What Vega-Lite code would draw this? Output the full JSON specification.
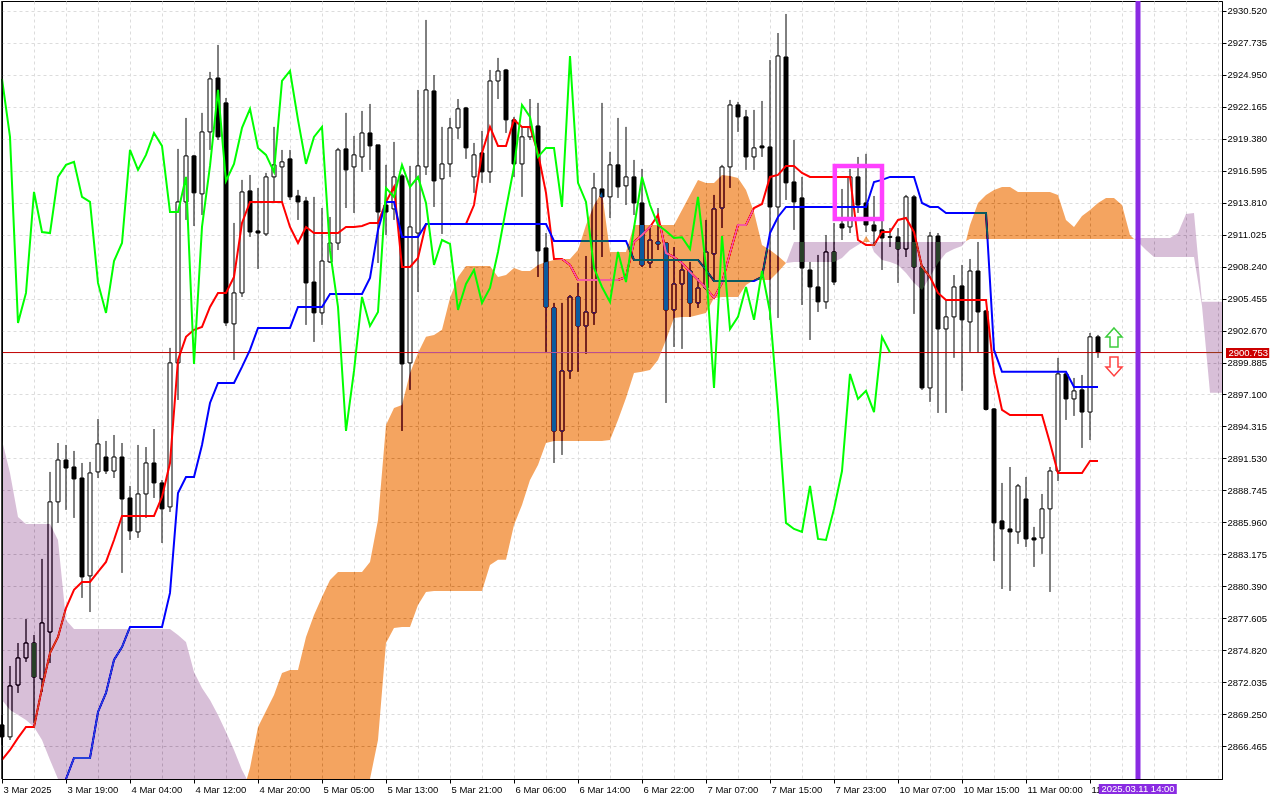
{
  "$schema": "https://vega.github.io/schema/vega-lite/v6.json",
  "width": 1220,
  "height": 778,
  "autosize": {"type": "none"},
  "padding": {"left": 2, "top": 1, "right": 58, "bottom": 21},
  "background": "white",
  "config": {
    "view": {"stroke": "black", "strokeWidth": 1},
    "font": "Liberation Sans"
  },
  "datasets": {
    "bars": [
      {"k":0,"o":2868.30,"h":2869.17,"l":2866.56,"c":2867.26,"tk":2865.25,"ck":2924.60},
      {"k":1,"o":2867.26,"h":2873.44,"l":2866.99,"c":2871.70,"tk":2866.12,"ck":2919.55},
      {"k":2,"o":2871.78,"h":2875.44,"l":2871.09,"c":2874.14,"tk":2867.17,"ck":2903.34},
      {"k":3,"o":2874.14,"h":2877.53,"l":2873.79,"c":2875.44,"tk":2868.13,"ck":2905.95},
      {"k":4,"o":2875.44,"h":2876.14,"l":2868.48,"c":2872.48,"tk":2868.13,"ck":2914.75},
      {"k":5,"o":2872.31,"h":2882.77,"l":2871.17,"c":2877.19,"tk":2871.52,"ck":2911.26},
      {"k":6,"o":2876.40,"h":2890.35,"l":2873.70,"c":2887.74,"tk":2874.57,"ck":2911.17},
      {"k":7,"o":2887.74,"h":2892.87,"l":2885.91,"c":2891.39,"tk":2875.97,"ck":2916.06},
      {"k":8,"o":2891.39,"h":2892.70,"l":2887.04,"c":2890.69,"tk":2878.49,"kj":2863.59,"ck":2917.11},
      {"k":9,"o":2890.78,"h":2892.18,"l":2886.34,"c":2889.74,"tk":2880.07,"kj":2865.43,"ck":2917.37},
      {"k":10,"o":2889.82,"h":2891.13,"l":2879.37,"c":2881.20,"tk":2880.76,"kj":2865.43,"ck":2914.32},
      {"k":11,"o":2881.29,"h":2891.22,"l":2878.14,"c":2890.26,"tk":2880.76,"kj":2865.43,"ck":2913.88},
      {"k":12,"o":2890.35,"h":2894.96,"l":2889.82,"c":2892.79,"tk":2881.64,"kj":2869.43,"ck":2906.82},
      {"k":13,"o":2891.65,"h":2893.05,"l":2890.17,"c":2890.43,"tk":2882.51,"kj":2871.09,"ck":2904.21},
      {"k":14,"o":2890.43,"h":2893.57,"l":2889.82,"c":2891.65,"tk":2884.42,"kj":2873.96,"ck":2908.73},
      {"k":15,"o":2891.65,"h":2892.87,"l":2881.55,"c":2887.99,"tk":2886.52,"kj":2875.09,"ck":2910.30},
      {"k":16,"o":2888.08,"h":2889.13,"l":2884.42,"c":2885.21,"tk":2886.52,"kj":2876.84,"ck":2918.41},
      {"k":17,"o":2885.12,"h":2892.70,"l":2884.60,"c":2888.43,"tk":2886.52,"kj":2876.84,"ck":2916.67},
      {"k":18,"o":2888.43,"h":2892.52,"l":2886.34,"c":2891.13,"tk":2886.52,"kj":2876.84,"ck":2917.98},
      {"k":19,"o":2891.13,"h":2894.09,"l":2888.08,"c":2889.39,"tk":2886.52,"kj":2876.84,"ck":2919.89},
      {"k":20,"o":2889.39,"h":2889.65,"l":2884.16,"c":2887.13,"tk":2888.17,"kj":2876.84,"ck":2918.76},
      {"k":21,"o":2887.30,"h":2901.16,"l":2886.86,"c":2899.85,"tk":2891.13,"kj":2879.81,"ck":2913.00},
      {"k":22,"o":2899.85,"h":2918.50,"l":2896.62,"c":2913.88,"tk":2900.11,"kj":2888.52,"ck":2913.00},
      {"k":23,"o":2913.88,"h":2921.20,"l":2912.31,"c":2917.89,"tk":2902.12,"kj":2889.91,"ck":2916.06},
      {"k":24,"o":2917.89,"h":2917.98,"l":2911.78,"c":2914.67,"tk":2902.73,"kj":2889.91,"ck":2899.76},
      {"k":25,"o":2914.58,"h":2921.64,"l":2912.74,"c":2919.98,"tk":2902.99,"kj":2892.70,"ck":2911.70},
      {"k":26,"o":2919.98,"h":2925.21,"l":2918.41,"c":2924.60,"tk":2904.73,"kj":2896.36,"ck":2917.02},
      {"k":27,"o":2924.68,"h":2927.56,"l":2919.28,"c":2919.55,"tk":2905.95,"kj":2898.11,"ck":2923.64},
      {"k":28,"o":2922.51,"h":2922.94,"l":2903.07,"c":2903.34,"tk":2905.95,"kj":2898.11,"ck":2915.71},
      {"k":29,"o":2903.25,"h":2912.05,"l":2900.11,"c":2905.95,"tk":2907.34,"kj":2898.11,"ck":2917.19},
      {"k":30,"o":2905.95,"h":2915.80,"l":2905.60,"c":2914.75,"tk":2912.05,"kj":2899.50,"ck":2920.33},
      {"k":31,"o":2914.84,"h":2916.23,"l":2910.83,"c":2911.26,"tk":2913.88,"kj":2900.98,"ck":2921.99},
      {"k":32,"o":2911.35,"h":2915.10,"l":2908.04,"c":2911.17,"tk":2913.88,"kj":2902.90,"ck":2918.59},
      {"k":33,"o":2911.09,"h":2916.41,"l":2910.91,"c":2916.06,"tk":2913.88,"kj":2902.90,"ck":2917.98},
      {"k":34,"o":2916.06,"h":2920.42,"l":2913.79,"c":2917.11,"tk":2913.88,"kj":2902.90,"ck":2916.50},
      {"k":35,"o":2916.93,"h":2918.41,"l":2913.79,"c":2917.37,"tk":2913.88,"kj":2902.90,"ck":2924.42},
      {"k":36,"o":2917.63,"h":2918.41,"l":2914.05,"c":2914.32,"tk":2911.70,"kj":2902.90,"ck":2925.29},
      {"k":37,"o":2914.40,"h":2914.93,"l":2912.31,"c":2913.88,"tk":2910.30,"kj":2904.73,"ck":2921.03},
      {"k":38,"o":2913.96,"h":2914.32,"l":2903.16,"c":2906.82,"tk":2911.70,"kj":2904.73,"ck":2917.19},
      {"k":39,"o":2906.90,"h":2914.32,"l":2901.68,"c":2904.21,"tk":2911.17,"kj":2904.73,"ck":2919.55},
      {"k":40,"o":2904.21,"h":2913.35,"l":2903.16,"c":2908.73,"tk":2911.17,"kj":2904.73,"ck":2920.42},
      {"k":41,"o":2908.65,"h":2912.57,"l":2908.56,"c":2910.30,"tk":2911.17,"kj":2905.86,"ck":2909.61},
      {"k":42,"o":2910.30,"h":2918.59,"l":2909.69,"c":2918.41,"tk":2911.17,"kj":2905.86,"ck":2904.73},
      {"k":43,"o":2918.50,"h":2921.64,"l":2913.35,"c":2916.67,"tk":2911.70,"kj":2905.86,"ck":2893.92},
      {"k":44,"o":2916.93,"h":2919.63,"l":2912.92,"c":2917.98,"tk":2911.70,"kj":2905.86,"ck":2899.15},
      {"k":45,"o":2917.80,"h":2921.81,"l":2916.50,"c":2919.89,"tk":2911.78,"kj":2905.86,"ck":2905.60},
      {"k":46,"o":2919.89,"h":2922.42,"l":2916.67,"c":2918.76,"tk":2912.05,"kj":2907.25,"ck":2903.07},
      {"k":47,"o":2918.85,"h":2918.85,"l":2908.56,"c":2913.00,"tk":2912.05,"kj":2911.44,"ck":2904.29},
      {"k":48,"o":2913.61,"h":2917.11,"l":2911.00,"c":2913.00,"tk":2913.88,"kj":2913.88,"ck":2915.10},
      {"k":49,"o":2913.27,"h":2919.11,"l":2912.31,"c":2916.06,"tk":2915.19,"kj":2913.88,"ck":2914.32},
      {"k":50,"o":2916.15,"h":2916.32,"l":2893.92,"c":2899.76,"tk":2908.21,"kj":2910.83,"ck":2917.11},
      {"k":51,"o":2899.85,"h":2917.02,"l":2897.50,"c":2911.70,"tk":2908.21,"kj":2910.83,"ck":2915.19},
      {"k":52,"o":2911.17,"h":2923.64,"l":2906.03,"c":2917.02,"tk":2909.00,"kj":2910.83,"ck":2916.06},
      {"k":53,"o":2916.93,"h":2929.74,"l":2916.23,"c":2923.64,"tk":2911.96,"kj":2911.96,"ck":2913.79},
      {"k":54,"o":2923.55,"h":2924.94,"l":2913.44,"c":2915.71,"tk":2911.96,"kj":2911.96,"ck":2908.39},
      {"k":55,"o":2915.89,"h":2920.42,"l":2911.09,"c":2917.19,"tk":2911.96,"kj":2911.96,"ck":2910.56},
      {"k":56,"o":2917.19,"h":2921.20,"l":2916.06,"c":2920.33,"tk":2911.96,"kj":2911.96,"ck":2910.22},
      {"k":57,"o":2920.33,"h":2922.85,"l":2919.37,"c":2921.99,"tk":2911.96,"kj":2911.96,"ck":2904.47},
      {"k":58,"o":2922.07,"h":2922.16,"l":2917.63,"c":2918.59,"tk":2911.96,"kj":2911.96,"ck":2906.73},
      {"k":59,"o":2916.06,"h":2919.02,"l":2914.67,"c":2917.98,"tk":2913.61,"kj":2911.96,"ck":2907.95},
      {"k":60,"o":2918.15,"h":2920.07,"l":2915.54,"c":2916.50,"tk":2918.15,"kj":2911.96,"ck":2905.08},
      {"k":61,"o":2916.50,"h":2925.38,"l":2915.54,"c":2924.42,"tk":2920.42,"kj":2911.96,"ck":2906.38},
      {"k":62,"o":2924.42,"h":2926.43,"l":2922.85,"c":2925.29,"tk":2918.76,"kj":2911.96,"ck":2909.52},
      {"k":63,"o":2925.38,"h":2925.47,"l":2919.89,"c":2921.03,"tk":2918.76,"kj":2911.96,"ck":2913.27},
      {"k":64,"o":2921.03,"h":2921.29,"l":2916.06,"c":2917.19,"tk":2921.03,"kj":2911.96,"ck":2916.93},
      {"k":65,"o":2917.19,"h":2920.42,"l":2914.32,"c":2919.55,"tk":2920.42,"kj":2911.96,"ck":2922.33},
      {"k":66,"o":2919.55,"h":2922.85,"l":2919.28,"c":2920.42,"tk":2920.42,"kj":2911.96,"ck":2921.29},
      {"k":67,"o":2920.50,"h":2922.51,"l":2907.34,"c":2909.61,"tk":2918.15,"kj":2911.96,"ck":2917.80},
      {"k":68,"o":2909.87,"h":2911.17,"l":2900.81,"c":2904.73,"tk":2914.67,"kj":2911.96,"ck":2918.59},
      {"k":69,"o":2904.64,"h":2905.08,"l":2891.13,"c":2893.92,"tk":2908.91,"kj":2910.48,"ck":2918.59},
      {"k":70,"o":2893.92,"h":2905.08,"l":2891.83,"c":2899.15,"tk":2908.91,"kj":2910.48,"ck":2913.44},
      {"k":71,"o":2899.15,"h":2905.77,"l":2898.46,"c":2905.60,"tk":2908.39,"kj":2910.48,"ck":2926.60},
      {"k":72,"o":2905.60,"h":2906.82,"l":2899.07,"c":2903.07,"tk":2907.08,"kj":2910.48,"ck":2915.54},
      {"k":73,"o":2903.07,"h":2909.17,"l":2900.64,"c":2904.29,"tk":2907.08,"kj":2910.48,"ck":2913.88},
      {"k":74,"o":2904.21,"h":2916.41,"l":2903.16,"c":2915.10,"tk":2907.08,"kj":2910.48,"ck":2908.12},
      {"k":75,"o":2915.01,"h":2922.51,"l":2909.08,"c":2914.32,"tk":2907.08,"kj":2910.48,"ck":2906.47},
      {"k":76,"o":2914.32,"h":2918.24,"l":2912.48,"c":2917.11,"tk":2907.08,"kj":2910.48,"ck":2905.17},
      {"k":77,"o":2917.11,"h":2921.20,"l":2914.23,"c":2915.19,"tk":2907.08,"kj":2910.48,"ck":2909.52},
      {"k":78,"o":2915.28,"h":2920.42,"l":2913.61,"c":2916.06,"tk":2907.34,"kj":2910.48,"ck":2906.90},
      {"k":79,"o":2916.06,"h":2917.54,"l":2912.74,"c":2913.79,"tk":2910.39,"kj":2908.82,"ck":2911.61},
      {"k":80,"o":2913.79,"h":2916.76,"l":2908.21,"c":2908.39,"tk":2911.00,"kj":2908.82,"ck":2916.06},
      {"k":81,"o":2908.56,"h":2911.70,"l":2908.12,"c":2910.56,"tk":2911.70,"kj":2908.82,"ck":2913.61},
      {"k":82,"o":2910.39,"h":2913.35,"l":2909.69,"c":2910.22,"tk":2912.74,"kj":2908.82,"ck":2911.87},
      {"k":83,"o":2910.30,"h":2910.30,"l":2896.36,"c":2904.47,"tk":2909.43,"kj":2908.82,"ck":2911.35},
      {"k":84,"o":2904.47,"h":2909.95,"l":2901.24,"c":2906.73,"tk":2909.08,"kj":2908.82,"ck":2910.74},
      {"k":85,"o":2906.73,"h":2908.65,"l":2901.07,"c":2907.95,"tk":2908.56,"kj":2908.82,"ck":2910.80},
      {"k":86,"o":2907.86,"h":2908.65,"l":2903.86,"c":2905.08,"tk":2907.78,"kj":2908.82,"ck":2909.78},
      {"k":87,"o":2905.08,"h":2907.25,"l":2904.64,"c":2906.38,"tk":2907.08,"kj":2908.82,"ck":2914.32},
      {"k":88,"o":2906.38,"h":2912.31,"l":2906.21,"c":2909.52,"tk":2906.38,"kj":2907.95,"ck":2908.21},
      {"k":89,"o":2909.35,"h":2914.49,"l":2906.90,"c":2913.27,"tk":2905.51,"kj":2906.99,"ck":2897.67},
      {"k":90,"o":2913.35,"h":2917.11,"l":2911.61,"c":2916.93,"tk":2906.82,"kj":2906.99,"ck":2910.91},
      {"k":91,"o":2916.93,"h":2922.77,"l":2915.10,"c":2922.33,"tk":2909.43,"kj":2906.99,"ck":2902.81},
      {"k":92,"o":2922.33,"h":2922.60,"l":2919.98,"c":2921.29,"tk":2911.87,"kj":2906.99,"ck":2903.86},
      {"k":93,"o":2921.29,"h":2921.90,"l":2916.67,"c":2917.80,"tk":2911.87,"kj":2906.99,"ck":2906.47},
      {"k":94,"o":2917.80,"h":2921.90,"l":2916.67,"c":2918.59,"tk":2913.35,"kj":2906.99,"ck":2903.60},
      {"k":95,"o":2918.76,"h":2922.68,"l":2917.80,"c":2918.59,"tk":2913.70,"kj":2907.34,"ck":2907.86},
      {"k":96,"o":2918.67,"h":2926.25,"l":2903.60,"c":2913.44,"tk":2916.06,"kj":2911.17,"ck":2904.29},
      {"k":97,"o":2913.44,"h":2928.60,"l":2903.77,"c":2926.60,"tk":2916.23,"kj":2912.57,"ck":2895.80},
      {"k":98,"o":2926.51,"h":2930.26,"l":2914.05,"c":2915.54,"tk":2917.02,"kj":2913.44,"ck":2885.91},
      {"k":99,"o":2915.62,"h":2919.28,"l":2911.44,"c":2913.88,"tk":2917.02,"kj":2913.44,"ck":2885.38},
      {"k":100,"o":2914.23,"h":2916.06,"l":2904.90,"c":2908.12,"tk":2916.41,"kj":2913.44,"ck":2885.12},
      {"k":101,"o":2907.95,"h":2908.65,"l":2901.85,"c":2906.47,"tk":2916.06,"kj":2913.44,"ck":2889.13},
      {"k":102,"o":2906.47,"h":2909.26,"l":2904.29,"c":2905.17,"tk":2916.06,"kj":2913.44,"ck":2884.51},
      {"k":103,"o":2905.17,"h":2911.00,"l":2904.56,"c":2909.52,"tk":2916.06,"kj":2913.44,"ck":2884.42},
      {"k":104,"o":2909.52,"h":2912.05,"l":2906.64,"c":2906.90,"tk":2916.06,"kj":2913.44,"ck":2887.13},
      {"k":105,"o":2911.96,"h":2915.01,"l":2910.56,"c":2911.61,"tk":2916.06,"kj":2913.44,"ck":2890.43},
      {"k":106,"o":2911.70,"h":2916.76,"l":2911.17,"c":2916.06,"tk":2916.06,"kj":2913.44,"ck":2898.89},
      {"k":107,"o":2916.06,"h":2917.80,"l":2912.92,"c":2913.61,"tk":2910.56,"kj":2913.44,"ck":2896.71},
      {"k":108,"o":2913.79,"h":2918.07,"l":2911.26,"c":2911.87,"tk":2910.13,"kj":2913.44,"ck":2897.41},
      {"k":109,"o":2911.87,"h":2914.40,"l":2910.13,"c":2911.35,"tk":2910.13,"kj":2915.62,"ck":2895.57},
      {"k":110,"o":2911.44,"h":2912.22,"l":2907.95,"c":2910.74,"tk":2911.26,"kj":2915.80,"ck":2902.12},
      {"k":111,"o":2910.85,"h":2911.61,"l":2909.95,"c":2910.80,"tk":2911.26,"kj":2916.06,"ck":2900.753},
      {"k":112,"o":2910.83,"h":2911.61,"l":2906.82,"c":2909.78,"tk":2912.31,"kj":2916.06},
      {"k":113,"o":2909.78,"h":2914.49,"l":2909.08,"c":2914.32,"tk":2912.48,"kj":2916.06},
      {"k":114,"o":2914.32,"h":2914.49,"l":2904.12,"c":2908.21,"tk":2911.26,"kj":2916.06},
      {"k":115,"o":2908.21,"h":2908.39,"l":2897.50,"c":2897.67,"tk":2908.21,"kj":2913.79},
      {"k":116,"o":2897.67,"h":2911.26,"l":2896.45,"c":2910.91,"tk":2907.34,"kj":2913.44},
      {"k":117,"o":2910.91,"h":2911.17,"l":2895.49,"c":2902.81,"tk":2905.95,"kj":2913.44},
      {"k":118,"o":2902.81,"h":2905.42,"l":2895.49,"c":2903.86,"tk":2905.34,"kj":2912.92},
      {"k":119,"o":2903.86,"h":2907.51,"l":2900.29,"c":2906.47,"tk":2905.34,"kj":2912.92},
      {"k":120,"o":2906.56,"h":2908.39,"l":2897.41,"c":2903.60,"tk":2905.34,"kj":2912.92},
      {"k":121,"o":2903.42,"h":2908.91,"l":2900.81,"c":2907.86,"tk":2905.34,"kj":2912.92},
      {"k":122,"o":2907.86,"h":2910.39,"l":2900.72,"c":2904.29,"tk":2905.34,"kj":2912.92},
      {"k":123,"o":2904.38,"h":2904.47,"l":2895.70,"c":2895.80,"tk":2905.34,"kj":2912.92},
      {"k":124,"o":2895.84,"h":2895.92,"l":2882.59,"c":2885.91,"tk":2898.98,"kj":2900.98},
      {"k":125,"o":2886.08,"h":2889.39,"l":2880.15,"c":2885.38,"tk":2895.75,"kj":2899.07},
      {"k":126,"o":2885.38,"h":2890.78,"l":2879.98,"c":2885.12,"tk":2895.31,"kj":2899.07},
      {"k":127,"o":2885.12,"h":2889.30,"l":2884.08,"c":2889.13,"tk":2895.31,"kj":2899.07},
      {"k":128,"o":2887.99,"h":2889.91,"l":2883.81,"c":2884.51,"tk":2895.31,"kj":2899.07},
      {"k":129,"o":2884.60,"h":2885.56,"l":2882.07,"c":2884.42,"tk":2895.31,"kj":2899.07},
      {"k":130,"o":2884.60,"h":2888.43,"l":2883.21,"c":2887.13,"tk":2895.31,"kj":2899.07},
      {"k":131,"o":2887.13,"h":2890.78,"l":2879.89,"c":2890.43,"tk":2892.87,"kj":2899.07},
      {"k":132,"o":2890.43,"h":2900.29,"l":2889.56,"c":2898.89,"tk":2890.26,"kj":2899.07},
      {"k":133,"o":2898.89,"h":2898.98,"l":2894.88,"c":2896.71,"tk":2890.26,"kj":2899.07},
      {"k":134,"o":2896.71,"h":2898.54,"l":2895.23,"c":2897.41,"tk":2890.26,"kj":2897.76},
      {"k":135,"o":2897.50,"h":2898.80,"l":2892.44,"c":2895.57,"tk":2890.26,"kj":2897.76},
      {"k":136,"o":2895.57,"h":2902.46,"l":2893.13,"c":2902.12,"tk":2891.30,"kj":2897.76},
      {"k":137,"o":2902.12,"h":2902.29,"l":2900.29,"c":2900.753,"tk":2891.30,"kj":2897.76}
    ],
    "cloud": [
      {"seg":"p1","kind":"dn","k":0,"a":2870.48,"b":2893.13},
      {"seg":"p1","kind":"dn","k":1,"a":2869.61,"b":2890.26},
      {"seg":"p1","kind":"dn","k":2,"a":2869.17,"b":2886.43},
      {"seg":"p1","kind":"dn","k":3,"a":2868.74,"b":2885.82},
      {"seg":"p1","kind":"dn","k":4,"a":2868.13,"b":2885.82},
      {"seg":"p1","kind":"dn","k":5,"a":2866.99,"b":2885.82},
      {"seg":"p1","kind":"dn","k":6,"a":2865.25,"b":2885.82},
      {"seg":"p1","kind":"dn","k":7,"a":2863.59,"b":2884.42},
      {"seg":"p1","kind":"dn","k":8,"a":2863.59,"b":2877.45},
      {"seg":"p1","kind":"dn","k":9,"a":2863.59,"b":2876.66},
      {"seg":"p1","kind":"dn","k":21,"a":2863.59,"b":2876.66},
      {"seg":"p1","kind":"dn","k":22,"a":2863.59,"b":2876.14},
      {"seg":"p1","kind":"dn","k":23,"a":2863.59,"b":2875.53},
      {"seg":"p1","kind":"dn","k":24,"a":2863.59,"b":2872.92},
      {"seg":"p1","kind":"dn","k":25,"a":2863.59,"b":2871.52},
      {"seg":"p1","kind":"dn","k":26,"a":2863.59,"b":2870.48},
      {"seg":"p1","kind":"dn","k":27,"a":2863.59,"b":2869.17},
      {"seg":"p1","kind":"dn","k":28,"a":2863.59,"b":2867.69},
      {"seg":"p1","kind":"dn","k":29,"a":2863.59,"b":2866.12},
      {"seg":"p1","kind":"dn","k":30,"a":2863.59,"b":2864.38},
      {"seg":"p1","kind":"dn","k":30.6,"a":2863.59,"b":2863.59},
      {"seg":"o1","kind":"up","k":30.6,"a":2863.59,"b":2863.59},
      {"seg":"o1","kind":"up","k":31,"a":2864.55,"b":2863.59},
      {"seg":"o1","kind":"up","k":32,"a":2868.13,"b":2863.59},
      {"seg":"o1","kind":"up","k":33,"a":2869.52,"b":2863.59},
      {"seg":"o1","kind":"up","k":34,"a":2870.91,"b":2863.59},
      {"seg":"o1","kind":"up","k":35,"a":2872.83,"b":2863.59},
      {"seg":"o1","kind":"up","k":36,"a":2873.09,"b":2863.59},
      {"seg":"o1","kind":"up","k":37,"a":2873.09,"b":2863.59},
      {"seg":"o1","kind":"up","k":38,"a":2875.97,"b":2863.59},
      {"seg":"o1","kind":"up","k":39,"a":2877.88,"b":2863.59},
      {"seg":"o1","kind":"up","k":40,"a":2879.46,"b":2863.59},
      {"seg":"o1","kind":"up","k":41,"a":2880.94,"b":2863.59},
      {"seg":"o1","kind":"up","k":42,"a":2881.64,"b":2863.59},
      {"seg":"o1","kind":"up","k":45,"a":2881.64,"b":2863.59},
      {"seg":"o1","kind":"up","k":46,"a":2882.51,"b":2863.59},
      {"seg":"o1","kind":"up","k":47,"a":2886.17,"b":2866.99},
      {"seg":"o1","kind":"up","k":48,"a":2894.44,"b":2875.44},
      {"seg":"o1","kind":"up","k":49,"a":2895.92,"b":2876.75},
      {"seg":"o1","kind":"up","k":50,"a":2896.18,"b":2876.84},
      {"seg":"o1","kind":"up","k":51,"a":2898.98,"b":2876.84},
      {"seg":"o1","kind":"up","k":52,"a":2900.72,"b":2878.75},
      {"seg":"o1","kind":"up","k":53,"a":2902.12,"b":2879.89},
      {"seg":"o1","kind":"up","k":54,"a":2902.29,"b":2879.98},
      {"seg":"o1","kind":"up","k":55,"a":2902.73,"b":2879.98},
      {"seg":"o1","kind":"up","k":56,"a":2905.51,"b":2879.98},
      {"seg":"o1","kind":"up","k":57,"a":2907.34,"b":2879.98},
      {"seg":"o1","kind":"up","k":58,"a":2908.30,"b":2879.98},
      {"seg":"o1","kind":"up","k":60,"a":2908.30,"b":2879.98},
      {"seg":"o1","kind":"up","k":61,"a":2908.30,"b":2882.25},
      {"seg":"o1","kind":"up","k":62,"a":2907.34,"b":2882.69},
      {"seg":"o1","kind":"up","k":63,"a":2907.52,"b":2882.69},
      {"seg":"o1","kind":"up","k":64,"a":2908.13,"b":2885.73},
      {"seg":"o1","kind":"up","k":65,"a":2907.86,"b":2887.47},
      {"seg":"o1","kind":"up","k":66,"a":2907.86,"b":2889.65},
      {"seg":"o1","kind":"up","k":67,"a":2908.39,"b":2890.96},
      {"seg":"o1","kind":"up","k":68,"a":2908.65,"b":2892.87},
      {"seg":"o1","kind":"up","k":69,"a":2908.82,"b":2893.05},
      {"seg":"o1","kind":"up","k":70,"a":2908.91,"b":2893.05},
      {"seg":"o1","kind":"up","k":71,"a":2908.91,"b":2893.05},
      {"seg":"o1","kind":"up","k":72,"a":2909.69,"b":2893.05},
      {"seg":"o1","kind":"up","k":73,"a":2911.87,"b":2893.05},
      {"seg":"o1","kind":"up","k":74,"a":2913.61,"b":2893.05},
      {"seg":"o1","kind":"up","k":75,"a":2914.75,"b":2893.05},
      {"seg":"o1","kind":"up","k":76,"a":2909.52,"b":2893.13},
      {"seg":"o1","kind":"up","k":77,"a":2909.52,"b":2894.88},
      {"seg":"o1","kind":"up","k":78,"a":2909.52,"b":2896.80},
      {"seg":"o1","kind":"up","k":79,"a":2911.87,"b":2898.98},
      {"seg":"o1","kind":"up","k":80,"a":2911.87,"b":2899.07},
      {"seg":"o1","kind":"up","k":81,"a":2911.87,"b":2899.24},
      {"seg":"o1","kind":"up","k":82,"a":2911.87,"b":2900.11},
      {"seg":"o1","kind":"up","k":83,"a":2911.87,"b":2901.85},
      {"seg":"o1","kind":"up","k":84,"a":2911.87,"b":2903.77},
      {"seg":"o1","kind":"up","k":85,"a":2913.18,"b":2903.86},
      {"seg":"o1","kind":"up","k":86,"a":2914.49,"b":2903.86},
      {"seg":"o1","kind":"up","k":87,"a":2915.80,"b":2904.03},
      {"seg":"o1","kind":"up","k":88,"a":2915.54,"b":2904.21},
      {"seg":"o1","kind":"up","k":89,"a":2915.54,"b":2905.51},
      {"seg":"o1","kind":"up","k":90,"a":2916.23,"b":2905.60},
      {"seg":"o1","kind":"up","k":91,"a":2916.15,"b":2905.60},
      {"seg":"o1","kind":"up","k":92,"a":2915.97,"b":2905.60},
      {"seg":"o1","kind":"up","k":93,"a":2914.93,"b":2906.64},
      {"seg":"o1","kind":"up","k":94,"a":2913.00,"b":2907.08},
      {"seg":"o1","kind":"up","k":95,"a":2910.13,"b":2907.08},
      {"seg":"o1","kind":"up","k":96,"a":2909.69,"b":2907.08},
      {"seg":"o1","kind":"up","k":97,"a":2909.17,"b":2907.78},
      {"seg":"o1","kind":"up","k":98,"a":2908.56,"b":2908.56},
      {"seg":"p2","kind":"dn","k":98,"a":2908.56,"b":2908.56},
      {"seg":"p2","kind":"dn","k":99,"a":2908.65,"b":2910.39},
      {"seg":"p2","kind":"dn","k":104,"a":2908.65,"b":2910.39},
      {"seg":"p2","kind":"dn","k":105,"a":2909.00,"b":2910.39},
      {"seg":"p2","kind":"dn","k":106,"a":2909.69,"b":2910.39},
      {"seg":"p2","kind":"dn","k":107,"a":2910.13,"b":2910.39},
      {"seg":"p2","kind":"dn","k":107.6,"a":2910.39,"b":2910.39},
      {"seg":"o2","kind":"up","k":107.6,"a":2910.39,"b":2910.39},
      {"seg":"o2","kind":"up","k":108,"a":2910.91,"b":2910.39},
      {"seg":"o2","kind":"up","k":108.5,"a":2910.39,"b":2910.39},
      {"seg":"p3","kind":"dn","k":108.5,"a":2910.39,"b":2910.39},
      {"seg":"p3","kind":"dn","k":109,"a":2909.52,"b":2910.39},
      {"seg":"p3","kind":"dn","k":110,"a":2908.82,"b":2910.39},
      {"seg":"p3","kind":"dn","k":111,"a":2908.65,"b":2910.39},
      {"seg":"p3","kind":"dn","k":112,"a":2908.39,"b":2910.39},
      {"seg":"p3","kind":"dn","k":113,"a":2907.69,"b":2910.39},
      {"seg":"p3","kind":"dn","k":114,"a":2906.82,"b":2910.39},
      {"seg":"p3","kind":"dn","k":115,"a":2906.21,"b":2910.39},
      {"seg":"p3","kind":"dn","k":116,"a":2907.34,"b":2910.39},
      {"seg":"p3","kind":"dn","k":117,"a":2908.56,"b":2910.39},
      {"seg":"p3","kind":"dn","k":118,"a":2909.43,"b":2910.39},
      {"seg":"p3","kind":"dn","k":119,"a":2909.78,"b":2910.39},
      {"seg":"p3","kind":"dn","k":120,"a":2910.04,"b":2910.39},
      {"seg":"p3","kind":"dn","k":120.5,"a":2910.48,"b":2910.48},
      {"seg":"o3","kind":"up","k":120.5,"a":2910.48,"b":2910.48},
      {"seg":"o3","kind":"up","k":121,"a":2911.87,"b":2910.65},
      {"seg":"o3","kind":"up","k":122,"a":2913.79,"b":2910.65},
      {"seg":"o3","kind":"up","k":123,"a":2914.49,"b":2910.65},
      {"seg":"o3","kind":"up","k":124,"a":2914.93,"b":2910.65},
      {"seg":"o3","kind":"up","k":125,"a":2915.19,"b":2910.65},
      {"seg":"o3","kind":"up","k":126,"a":2915.19,"b":2910.65},
      {"seg":"o3","kind":"up","k":127,"a":2914.75,"b":2910.65},
      {"seg":"o3","kind":"up","k":131,"a":2914.75,"b":2910.65},
      {"seg":"o3","kind":"up","k":132,"a":2914.49,"b":2910.65},
      {"seg":"o3","kind":"up","k":133,"a":2912.31,"b":2910.65},
      {"seg":"o3","kind":"up","k":134,"a":2911.70,"b":2910.65},
      {"seg":"o3","kind":"up","k":135,"a":2912.66,"b":2910.65},
      {"seg":"o3","kind":"up","k":136,"a":2913.18,"b":2910.65},
      {"seg":"o3","kind":"up","k":137,"a":2913.79,"b":2910.65},
      {"seg":"o3","kind":"up","k":138,"a":2914.23,"b":2910.65},
      {"seg":"o3","kind":"up","k":139,"a":2914.23,"b":2910.65},
      {"seg":"o3","kind":"up","k":140,"a":2913.61,"b":2910.65},
      {"seg":"o3","kind":"up","k":141,"a":2911.00,"b":2910.65},
      {"seg":"o3","kind":"up","k":141.5,"a":2910.65,"b":2910.65},
      {"seg":"p4","kind":"dn","k":141.5,"a":2910.65,"b":2910.65},
      {"seg":"p4","kind":"dn","k":142,"a":2910.39,"b":2910.74},
      {"seg":"p4","kind":"dn","k":143,"a":2909.69,"b":2910.74},
      {"seg":"p4","kind":"dn","k":144,"a":2909.08,"b":2910.74},
      {"seg":"p4","kind":"dn","k":146,"a":2909.08,"b":2910.74},
      {"seg":"p4","kind":"dn","k":147,"a":2909.08,"b":2911.17},
      {"seg":"p4","kind":"dn","k":148,"a":2909.08,"b":2912.83},
      {"seg":"p4","kind":"dn","k":149,"a":2909.08,"b":2912.92},
      {"seg":"p4","kind":"dn","k":150,"a":2904.81,"b":2905.17},
      {"seg":"p4","kind":"dn","k":151,"a":2897.24,"b":2905.17},
      {"seg":"p4","kind":"dn","k":152.5,"a":2897.24,"b":2905.17}
    ]
  },
  "layer": [
    {
      "data": {"name": "bars"},
      "mark": {"type": "rule", "color": "black", "strokeWidth": 1},
      "encoding": {
        "x": {
          "field": "k", "type": "quantitative",
          "scale": {"domain": [0, 152.5], "nice": false, "zero": false, "padding": 0},
          "axis": {
            "orient": "bottom", "title": null, "tickCount": 500,
            "values": [0,4,8,12,16,20,24,28,32,36,40,44,48,52,56,60,64,68,72,76,80,84,88,92,96,100,104,108,112,116,120,124,128,132,136,140,144,148,152],
            "labelExpr": "datum.value % 8 == 0 && datum.value <= 136 ? ['3 Mar 2025','3 Mar 19:00','4 Mar 04:00','4 Mar 12:00','4 Mar 20:00','5 Mar 05:00','5 Mar 13:00','5 Mar 21:00','6 Mar 06:00','6 Mar 14:00','6 Mar 22:00','7 Mar 07:00','7 Mar 15:00','7 Mar 23:00','10 Mar 07:00','10 Mar 15:00','11 Mar 00:00','11'][datum.value / 8] : ''",
            "grid": true, "gridColor": "#dcdcdc", "gridDash": [3, 3], "gridWidth": 1,
            "gridOpacity": {"condition": {"test": "datum.value == 0", "value": 0}, "value": 1},
            "domainColor": "black", "tickColor": "black", "tickSize": 4,
            "tickOpacity": {"condition": {"test": "datum.value % 8 == 0 && datum.value <= 136", "value": 1}, "value": 0},
            "labelAlign": "left", "labelBaseline": "top", "labelPadding": 1, "labelOffset": 1,
            "labelFont": "Liberation Sans", "labelFontSize": 9.5, "labelColor": "black",
            "labelOverlap": false, "labelBound": false, "labelFlush": false
          }
        },
        "y": {
          "field": "l", "type": "quantitative",
          "scale": {"domain": [2863.59, 2931.39], "nice": false, "zero": false, "padding": 0},
          "axis": {
            "orient": "right", "title": null, "tickCount": 500,
            "values": [2930.52,2927.735,2924.95,2922.165,2919.38,2916.595,2913.81,2911.025,2908.24,2905.455,2902.67,2899.885,2897.1,2894.315,2891.53,2888.745,2885.96,2883.175,2880.39,2877.605,2874.82,2872.035,2869.25,2866.465],
            "format": ".3f",
            "grid": true, "gridColor": "#dcdcdc", "gridDash": [3, 3], "gridWidth": 1,
            "domainColor": "black", "tickColor": "black", "tickSize": 4,
            "labelAlign": "left", "labelBaseline": "middle", "labelPadding": 1,
            "labelFont": "Liberation Sans", "labelFontSize": 9.5, "labelColor": "black",
            "labelOverlap": false, "labelBound": false, "labelFlush": false
          }
        },
        "y2": {"field": "h"}
      }
    },
    {
      "data": {"name": "bars"},
      "mark": {"type": "bar", "width": 4, "stroke": "black", "strokeWidth": 1},
      "encoding": {
        "x": {"field": "k", "type": "quantitative"},
        "y": {"field": "o", "type": "quantitative", "stack": null},
        "y2": {"field": "c"},
        "fill": {"condition": {"test": "datum.c > datum.o", "value": "white"}, "value": "black"}
      }
    },
    {
      "data": {"values": [{"p": 2900.753}]},
      "mark": {"type": "rule", "color": "#c00000", "strokeWidth": 1},
      "encoding": {"y": {"field": "p", "type": "quantitative"}}
    },
    {
      "data": {"name": "bars"},
      "mark": {"type": "line", "color": "#ff0000", "strokeWidth": 2},
      "encoding": {
        "x": {"field": "k", "type": "quantitative"},
        "y": {"field": "tk", "type": "quantitative"}
      }
    },
    {
      "data": {"name": "bars"},
      "mark": {"type": "line", "color": "#0000ff", "strokeWidth": 2},
      "encoding": {
        "x": {"field": "k", "type": "quantitative"},
        "y": {"field": "kj", "type": "quantitative"}
      }
    },
    {
      "data": {"name": "cloud"},
      "mark": {"type": "area", "blend": "difference", "opacity": 1},
      "encoding": {
        "x": {"field": "k", "type": "quantitative"},
        "y": {"field": "a", "type": "quantitative", "stack": null},
        "y2": {"field": "b"},
        "color": {"field": "kind", "type": "nominal", "scale": {"domain": ["up", "dn"], "range": ["#0b5b9f", "#274027"]}, "legend": null},
        "detail": {"field": "seg"}
      }
    },
    {
      "data": {"name": "bars"},
      "mark": {"type": "line", "color": "#00ff00", "strokeWidth": 2},
      "encoding": {
        "x": {"field": "k", "type": "quantitative"},
        "y": {"field": "ck", "type": "quantitative"}
      }
    },
    {
      "data": {"values": [{"k": 0}]},
      "mark": {"type": "rule", "color": "black", "strokeWidth": 1.5},
      "encoding": {"x": {"field": "k", "type": "quantitative"}}
    },
    {
      "data": {"values": [{"x1": 104.1, "x2": 110.0, "p1": 2917.01, "p2": 2912.40}]},
      "mark": {"type": "rect", "fill": null, "fillOpacity": 0, "stroke": "#ff40ff", "strokeWidth": 4.5},
      "encoding": {
        "x": {"field": "x1", "type": "quantitative"},
        "x2": {"field": "x2"},
        "y": {"field": "p1", "type": "quantitative"},
        "y2": {"field": "p2"}
      }
    },
    {
      "data": {"values": [{"k": 142}]},
      "mark": {"type": "rule", "color": "#8a2be2", "strokeWidth": 5},
      "encoding": {"x": {"field": "k", "type": "quantitative"}}
    },
    {
      "data": {"values": [{"k": 139, "p": 2902.07}]},
      "mark": {"type": "point", "shape": "M0,-1 L0.85,-0.05 L0.42,-0.05 L0.42,1 L-0.42,1 L-0.42,-0.05 L-0.85,-0.05 Z", "filled": true, "fill": "white", "stroke": "#3ccc3c", "strokeWidth": 1.5, "size": 361, "opacity": 1},
      "encoding": {
        "x": {"field": "k", "type": "quantitative"},
        "y": {"field": "p", "type": "quantitative"}
      }
    },
    {
      "data": {"values": [{"k": 139, "p": 2899.54}]},
      "mark": {"type": "point", "shape": "M0,1 L0.85,0.05 L0.42,0.05 L0.42,-1 L-0.42,-1 L-0.42,0.05 L-0.85,0.05 Z", "filled": true, "fill": "white", "stroke": "#ff4040", "strokeWidth": 1.5, "size": 361, "opacity": 1},
      "encoding": {
        "x": {"field": "k", "type": "quantitative"},
        "y": {"field": "p", "type": "quantitative"}
      }
    },
    {
      "data": {"values": [{"x1": 137.1, "x2": 146.85, "p1": 2863.16, "p2": 2862.29}]},
      "mark": {"type": "rect", "color": "#8a2be2"},
      "encoding": {
        "x": {"field": "x1", "type": "quantitative"},
        "x2": {"field": "x2"},
        "y": {"field": "p1", "type": "quantitative"},
        "y2": {"field": "p2"}
      }
    },
    {
      "data": {"values": [{"k": 142, "p": 2862.72, "t": "2025.03.11 14:00"}]},
      "mark": {"type": "text", "color": "white", "font": "Liberation Sans", "fontSize": 9.5, "align": "center", "baseline": "middle"},
      "encoding": {
        "x": {"field": "k", "type": "quantitative"},
        "y": {"field": "p", "type": "quantitative"},
        "text": {"field": "t"}
      }
    },
    {
      "data": {"values": [{"x1": 153.0, "x2": 158.4, "p1": 2901.15, "p2": 2900.28}]},
      "mark": {"type": "rect", "color": "#cc0000"},
      "encoding": {
        "x": {"field": "x1", "type": "quantitative"},
        "x2": {"field": "x2"},
        "y": {"field": "p1", "type": "quantitative"},
        "y2": {"field": "p2"}
      }
    },
    {
      "data": {"values": [{"k": 153.3, "p": 2900.753, "t": "2900.753"}]},
      "mark": {"type": "text", "color": "white", "font": "Liberation Sans", "fontSize": 9.5, "align": "left", "baseline": "middle"},
      "encoding": {
        "x": {"field": "k", "type": "quantitative"},
        "y": {"field": "p", "type": "quantitative"},
        "text": {"field": "t"}
      }
    }
  ]
}
